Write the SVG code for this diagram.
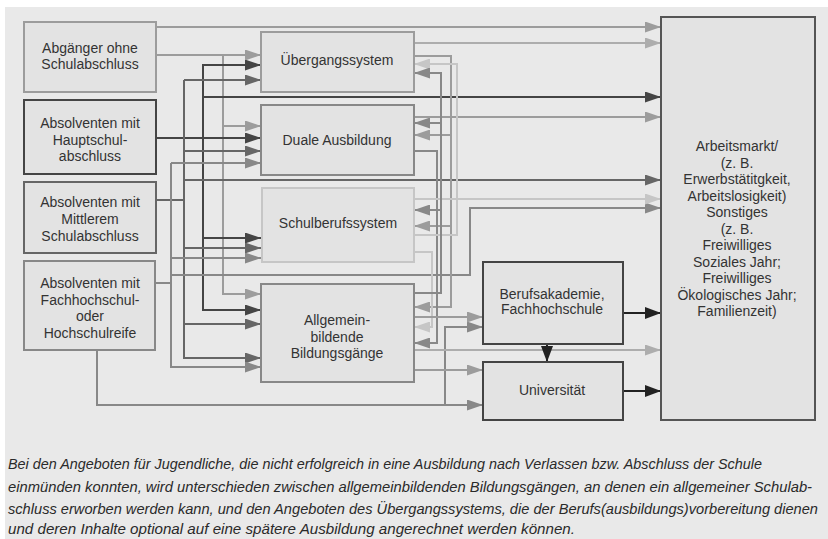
<svg xmlns="http://www.w3.org/2000/svg" width="828" height="539" viewBox="0 0 828 539">
<style>
.n rect{fill:#e3e3e3;stroke-width:2}
text{font-family:"Liberation Sans",Arial,sans-serif;font-size:14px;fill:#333;text-anchor:middle}
.cap text{font-style:italic;font-size:14.5px;text-anchor:start;fill:#2a2a2a}
.c path{fill:none;stroke-width:2}
.k1{stroke:#454545}.k2{stroke:#666}.k3{stroke:#888}.k4{stroke:#9c9c9c}.k5{stroke:#adadad}.k6{stroke:#c6c6c6}.k0{stroke:#222}
</style>
<defs>
<marker id="m1" markerUnits="userSpaceOnUse" markerWidth="16" markerHeight="11" refX="16" refY="5.5" orient="auto"><path d="M0,0L16,5.5L0,11Z" fill="#454545"/></marker>
<marker id="m2" markerUnits="userSpaceOnUse" markerWidth="16" markerHeight="11" refX="16" refY="5.5" orient="auto"><path d="M0,0L16,5.5L0,11Z" fill="#666"/></marker>
<marker id="m3" markerUnits="userSpaceOnUse" markerWidth="16" markerHeight="11" refX="16" refY="5.5" orient="auto"><path d="M0,0L16,5.5L0,11Z" fill="#888"/></marker>
<marker id="m4" markerUnits="userSpaceOnUse" markerWidth="16" markerHeight="11" refX="16" refY="5.5" orient="auto"><path d="M0,0L16,5.5L0,11Z" fill="#9c9c9c"/></marker>
<marker id="m5" markerUnits="userSpaceOnUse" markerWidth="16" markerHeight="11" refX="16" refY="5.5" orient="auto"><path d="M0,0L16,5.5L0,11Z" fill="#adadad"/></marker>
<marker id="m6" markerUnits="userSpaceOnUse" markerWidth="16" markerHeight="11" refX="16" refY="5.5" orient="auto"><path d="M0,0L16,5.5L0,11Z" fill="#c6c6c6"/></marker>
<marker id="m0" markerUnits="userSpaceOnUse" markerWidth="16" markerHeight="12" refX="16" refY="6" orient="auto"><path d="M0,0L16,6L0,12Z" fill="#222"/></marker>
</defs>
<rect x="0" y="0" width="828" height="539" fill="#fff"/>
<rect x="5" y="7" width="823" height="532" fill="#e9e9e9"/>

<g id="connectors" class="c">
<!-- Abgaenger ohne Schulabschluss -->
<path class="k4" d="M156,27H661" marker-end="url(#m4)"/>
<path class="k4" d="M156,55H261" marker-end="url(#m4)"/>
<path class="k4" d="M223,55V294H261" marker-end="url(#m4)"/>
<path class="k4" d="M223,126H261" marker-end="url(#m4)"/>
<!-- Hauptschulabschluss -->
<path class="k1" d="M156,138H261" marker-end="url(#m1)"/>
<path class="k1" d="M261,65H203V310H261" marker-end="url(#m1)"/>
<path class="k1" d="M203,65H261" marker-end="url(#m1)"/>
<path class="k1" d="M203,97H661" marker-end="url(#m1)"/>
<path class="k1" d="M203,238H261" marker-end="url(#m1)"/>
<!-- Mittlerer Schulabschluss -->
<path class="k2" d="M156,200H184"/>
<path class="k2" d="M184,80V358H261" marker-end="url(#m2)"/>
<path class="k2" d="M184,80H261" marker-end="url(#m2)"/>
<path class="k2" d="M184,151H261" marker-end="url(#m2)"/>
<path class="k2" d="M184,180H661" marker-end="url(#m2)"/>
<path class="k2" d="M184,248H261" marker-end="url(#m2)"/>
<path class="k2" d="M184,324H261" marker-end="url(#m2)"/>
<!-- Fachhochschul- oder Hochschulreife -->
<path class="k3" d="M155,283H171"/>
<path class="k3" d="M171,163V367H261" marker-end="url(#m3)"/>
<path class="k3" d="M171,163H261" marker-end="url(#m3)"/>
<path class="k3" d="M171,258H261" marker-end="url(#m3)"/>
<path class="k3" d="M171,275H470V208H661" marker-end="url(#m3)"/>
<path class="k3" d="M97,350V405H483" marker-end="url(#m3)"/>
<path class="k3" d="M445,405V327H483" marker-end="url(#m3)"/>
<!-- Uebergangssystem -->
<path class="k5" d="M414,43H661" marker-end="url(#m5)"/>
<path class="k4" d="M414,56H451V307H414" marker-end="url(#m4)"/>
<path class="k4" d="M451,135H414" marker-end="url(#m4)"/>
<path class="k4" d="M451,226H414" marker-end="url(#m4)"/>
<!-- Duale Ausbildung -->
<path class="k4" d="M414,117H661" marker-end="url(#m4)"/>
<path class="k3" d="M414,151H437V343H414" marker-end="url(#m3)"/>
<!-- Schulberufssystem -->
<path class="k6" d="M414,199H661" marker-end="url(#m6)"/>
<path class="k6" d="M414,235H457V64H414" marker-end="url(#m6)"/>
<path class="k6" d="M414,252H432V327H414" marker-end="url(#m6)"/>
<!-- Allgemeinbildende Bildungsgaenge -->
<path class="k3" d="M414,293H441V73H414" marker-end="url(#m3)"/>
<path class="k3" d="M441,123H414" marker-end="url(#m3)"/>
<path class="k3" d="M441,210H414" marker-end="url(#m3)"/>
<path class="k4" d="M414,317H483" marker-end="url(#m4)"/>
<path class="k5" d="M414,350H661" marker-end="url(#m5)"/>
<path class="k4" d="M414,370H483" marker-end="url(#m4)"/>
<!-- Berufsakademie / Universitaet -->
<path class="k0" d="M623,313H661" marker-end="url(#m0)"/>
<path class="k0" d="M623,391H661" marker-end="url(#m0)"/>
<path class="k0" d="M547,344V362" marker-end="url(#m0)"/>
</g>

<g id="abgaenger" class="n"><rect x="24" y="22" width="132" height="70" stroke="#9c9c9c"/><text x="90" y="53">Abgänger ohne</text><text x="90" y="69">Schulabschluss</text></g>
<g id="hauptschule" class="n"><rect x="24" y="100" width="132" height="74" stroke="#454545"/><text x="90" y="128">Absolventen mit</text><text x="90" y="145">Hauptschul-</text><text x="90" y="161">abschluss</text></g>
<g id="mittlerer" class="n"><rect x="24" y="182" width="132" height="71" stroke="#666"/><text x="90" y="207">Absolventen mit</text><text x="90" y="224">Mittlerem</text><text x="90" y="241">Schulabschluss</text></g>
<g id="hochschulreife" class="n"><rect x="24" y="261" width="131" height="89" stroke="#888"/><text x="90" y="288">Absolventen mit</text><text x="90" y="305">Fachhochschul-</text><text x="90" y="321">oder</text><text x="90" y="338">Hochschulreife</text></g>

<g id="uebergang" class="n"><rect x="261" y="32" width="153" height="60" stroke="#9c9c9c"/><text x="337" y="65">Übergangssystem</text></g>
<g id="duale" class="n"><rect x="261" y="105" width="153" height="70" stroke="#888"/><text x="337" y="145">Duale Ausbildung</text></g>
<g id="schulberuf" class="n"><rect x="262" y="188" width="152" height="74" stroke="#c6c6c6"/><text x="338" y="228">Schulberufssystem</text></g>
<g id="allgemein" class="n"><rect x="261" y="284" width="153" height="98" stroke="#888"/><text x="337" y="325">Allgemein-</text><text x="337" y="342">bildende</text><text x="337" y="358">Bildungsgänge</text></g>

<g id="berufsakademie" class="n"><rect x="483" y="262" width="140" height="82" stroke="#444"/><text x="552" y="299">Berufsakademie,</text><text x="552" y="314">Fachhochschule</text></g>
<g id="universitaet" class="n"><rect x="483" y="362" width="140" height="58" stroke="#444"/><text x="552" y="395">Universität</text></g>

<g id="arbeitsmarkt" class="n"><rect x="661" y="17" width="154" height="403" stroke="#555"/>
<text x="737" y="151">Arbeitsmarkt/</text>
<text x="737" y="167.5">(z. B.</text>
<text x="737" y="184">Erwerbstätitgkeit,</text>
<text x="737" y="200.5">Arbeitslosigkeit)</text>
<text x="737" y="217">Sonstiges</text>
<text x="737" y="233.5">(z. B.</text>
<text x="737" y="250">Freiwilliges</text>
<text x="737" y="266.5">Soziales Jahr;</text>
<text x="737" y="283">Freiwilliges</text>
<text x="737" y="299.5">Ökologisches Jahr;</text>
<text x="737" y="316">Familienzeit)</text>
</g>

<g id="caption" class="cap">
<text x="8" y="469" textLength="754" lengthAdjust="spacingAndGlyphs">Bei den Angeboten für Jugendliche, die nicht erfolgreich in eine Ausbildung nach Verlassen bzw. Abschluss der Schule</text>
<text x="8" y="492" textLength="804" lengthAdjust="spacingAndGlyphs">einmünden konnten, wird unterschieden zwischen allgemeinbildenden Bildungsgängen, an denen ein allgemeiner Schulab-</text>
<text x="8" y="514" textLength="810" lengthAdjust="spacingAndGlyphs" style="font-size:14px">schluss erworben werden kann, und den Angeboten des Übergangssystems, die der Berufs(ausbildungs)vorbereitung dienen</text>
<text x="8" y="534" textLength="567" lengthAdjust="spacingAndGlyphs">und deren Inhalte optional auf eine spätere Ausbildung angerechnet werden können.</text>
</g>
</svg>
